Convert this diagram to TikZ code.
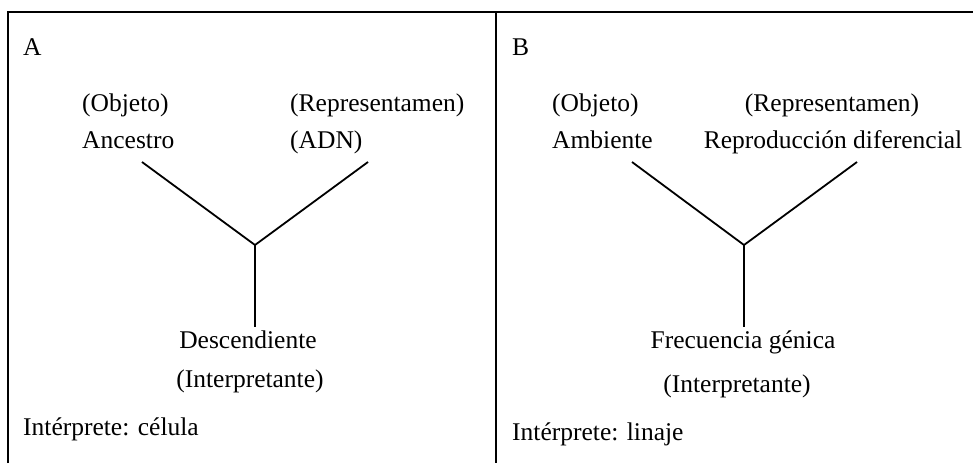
\documentclass[tikz,border=0pt]{standalone}
\usepackage{fontspec}
\setmainfont{Liberation Serif}
\begin{document}
\begin{tikzpicture}[x=1pt,y=-1pt,
  frameline/.style={line width=1.8pt},
  arm/.style={line width=1.8pt},
  lbl/.style={inner sep=0pt,font=\fontsize{25.5}{30}\selectfont},
  lblw/.style={lbl,anchor=base west},
  lblc/.style={lbl,anchor=base}]
\useasboundingbox (0,0) rectangle (973,463);

% frame: top rule, outer left rule and the divider between the panels
\coordinate (tl) at (8,12);
\coordinate (tr) at (973,12);
\coordinate (bl) at (8,463);
\coordinate (tm) at (496,12);
\coordinate (bm) at (496,463);
\draw[frameline] (bl) -- (tl) -- (tr);
\draw[frameline] (tm) -- (bm);

% ---------- panel A ----------
\node[lblw] (titleA) at (23,55) {A};
\node[lblw] (objA) at (82,111) {(Objeto)};
\node[lblw] (ancestro) at (82,148) {Ancestro};
\node[lblw] (repA) at (290,111) {(Representamen)};
\node[lblw] (adn) at (290,148) {(ADN)};
\node[lblc] (descend) at (248,348) {Descendiente};
\node[lblc] (interpA) at (250,387) {(Interpretante)};
\node[lblw] (interpreteA) at (23,435) {Intérprete: célula};

\coordinate (jA) at (255,245);
\coordinate (aL) at (142,162);
\coordinate (aR) at (368,162);
\coordinate (aS) at (255,327);
\draw[arm] (aL) -- (jA) -- (aR);
\draw[arm] (jA) -- (aS);

% ---------- panel B ----------
\node[lblw] (titleB) at (512,55) {B};
\node[lblw] (objB) at (552,111) {(Objeto)};
\node[lblw] (ambiente) at (552,148) {Ambiente};
\node[lblc] (repB) at (832,111) {(Representamen)};
\node[lblc] (reprod) at (833,148) {Reproducción diferencial};
\node[lblc] (frecuencia) at (743,348) {Frecuencia génica};
\node[lblc] (interpB) at (737,392) {(Interpretante)};
\node[lblw] (interpreteB) at (512,440) {Intérprete: linaje};

\coordinate (jB) at (744,245);
\coordinate (bL) at (632,162);
\coordinate (bR) at (857,162);
\coordinate (bS) at (744,327);
\draw[arm] (bL) -- (jB) -- (bR);
\draw[arm] (jB) -- (bS);
\end{tikzpicture}
\end{document}
